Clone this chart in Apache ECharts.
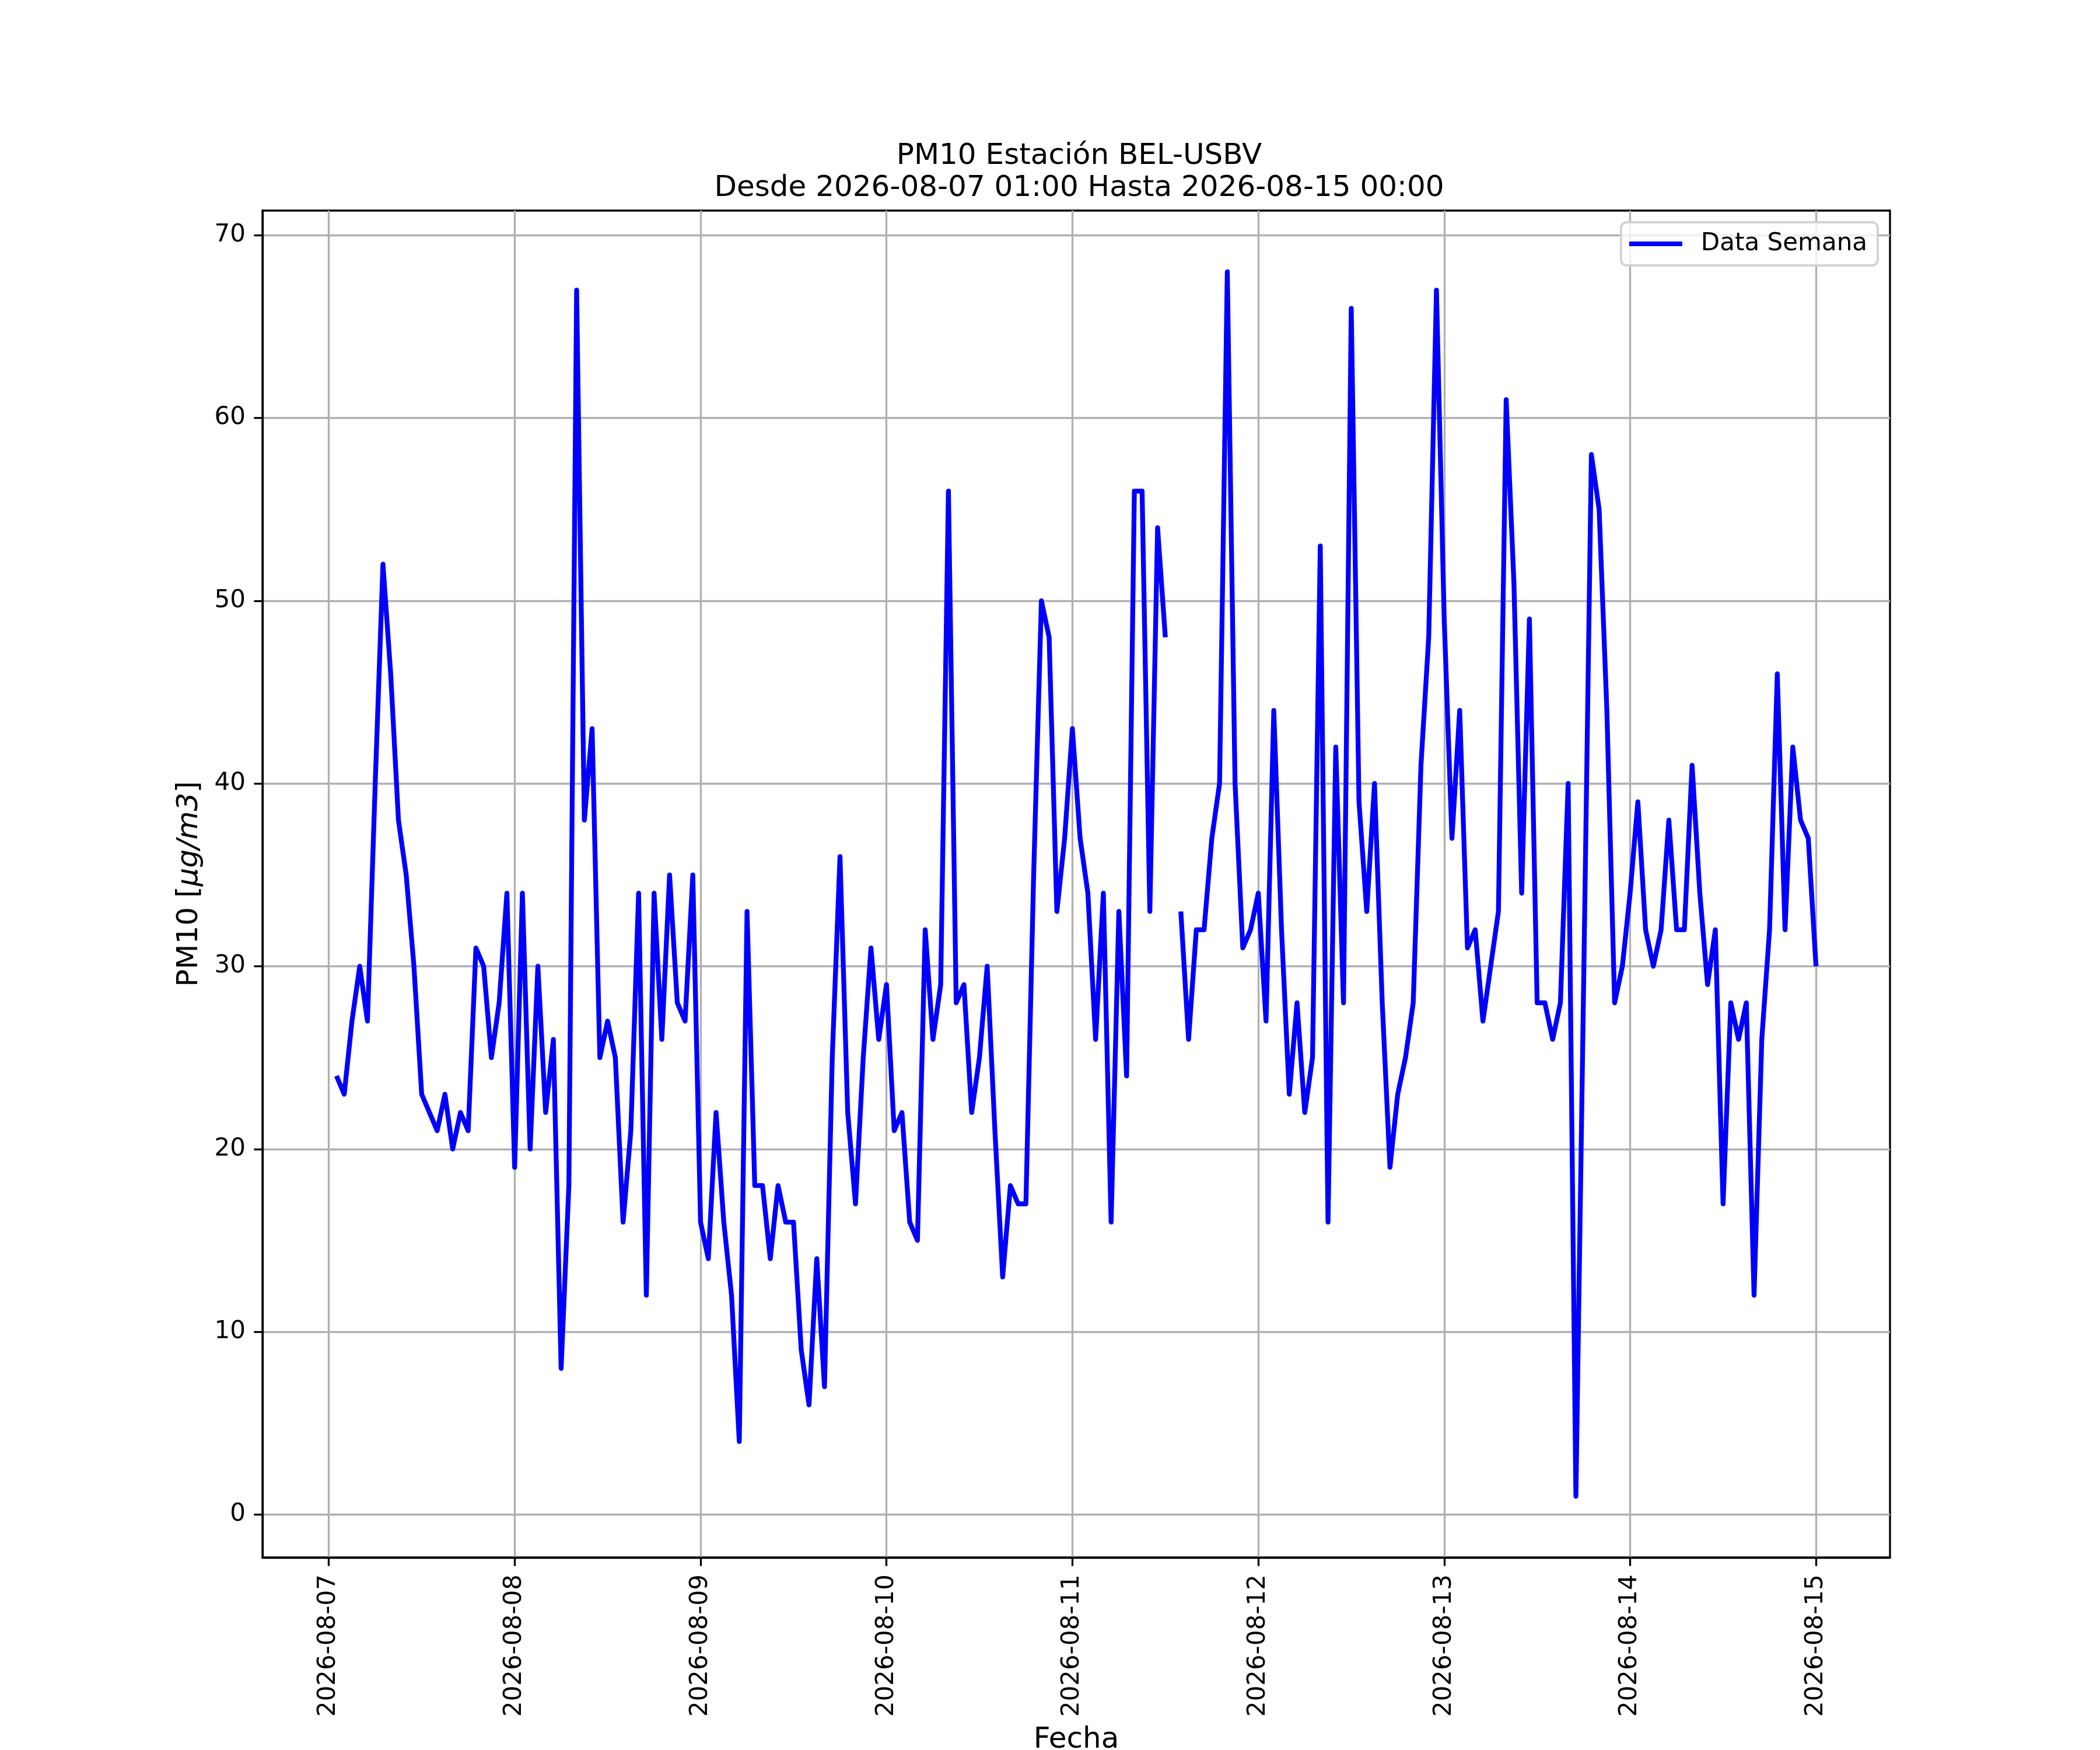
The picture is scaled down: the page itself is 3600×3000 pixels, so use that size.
<!DOCTYPE html>
<html>
<head>
<meta charset="utf-8">
<script src="https://cdn.jsdelivr.net/npm/echarts@6/dist/echarts.min.js"></script>
<style>
html, body { margin: 0; padding: 0; background: #ffffff; }
#chart { width: 3600px; height: 3000px; }
</style>
</head>
<body>
<div id="chart"></div>
<script>
// day labels on the x axis, one per midnight
var dayLabels = ['2026-08-07', '2026-08-08', '2026-08-09', '2026-08-10', '2026-08-11',
                 '2026-08-12', '2026-08-13', '2026-08-14', '2026-08-15'];
var xTicks = [0, 24, 48, 72, 96, 120, 144, 168, 192];   // hours since 2026-08-07 00:00
var yTicks = [0, 10, 20, 30, 40, 50, 60, 70];

// hourly PM10, 01:00 .. 24:00 of each day (24:00 = next day 00:00)
var pm07 = [24, 23, 27, 30, 27, 40, 52, 46, 38, 35, 30, 23, 22, 21, 23, 20, 22, 21, 31, 30, 25, 28, 34, 19];
var pm08 = [34, 20, 30, 22, 26, 8, 18, 67, 38, 43, 25, 27, 25, 16, 21, 34, 12, 34, 26, 35, 28, 27, 35, 16];
var pm09 = [14, 22, 16, 12, 4, 33, 18, 18, 14, 18, 16, 16, 9, 6, 14, 7, 25, 36, 22, 17, 25, 31, 26, 29];
var pm10 = [21, 22, 16, 15, 32, 26, 29, 56, 28, 29, 22, 25, 30, 21, 13, 18, 17, 17, 35, 50, 48, 33, 37, 43];
var pm11 = [37, 34, 26, 34, 16, 33, 24, 56, 56, 33, 54, 48, null, 33, 26, 32, 32, 37, 40, 68, 40, 31, 32, 34];
var pm12 = [27, 44, 32, 23, 28, 22, 25, 53, 16, 42, 28, 66, 39, 33, 40, 28, 19, 23, 25, 28, 41, 48, 67, 49];
var pm13 = [37, 44, 31, 32, 27, 30, 33, 61, 51, 34, 49, 28, 28, 26, 28, 40, 1, 29, 58, 55, 44, 28, 30, 34];
var pm14 = [39, 32, 30, 32, 38, 32, 32, 41, 34, 29, 32, 17, 28, 26, 28, 12, 26, 32, 46, 32, 42, 38, 37, 30];

var values = [].concat(pm07, pm08, pm09, pm10, pm11, pm12, pm13, pm14);
var seriesData = values.map(function (v, i) { return [i + 1, v]; });

// matplotlib style 5% margins
var xSpan = values.length - 1;
var xMin = 1 - xSpan * 0.05, xMax = values.length + xSpan * 0.05;
var yMin = -2.35, yMax = 71.35;

var font = 'DejaVu Sans';

var dom = document.getElementById('chart');
var myChart = echarts.init(dom);
var option = {
    animation: false,
    backgroundColor: '#ffffff',
    title: {
        text: 'PM10 Estación BEL-USBV\nDesde 2026-08-07 01:00 Hasta 2026-08-15 00:00',
        left: 1845,
        top: 236,
        textAlign: 'center',
        textStyle: {
            fontFamily: font,
            fontSize: 50,
            fontWeight: 'normal',
            color: '#000000',
            lineHeight: 55
        }
    },
    legend: {
        data: ['Data Semana'],
        icon: 'rect',
        right: 381,
        top: 381,
        padding: [16, 18, 16, 14],
        itemWidth: 91,
        itemHeight: 8,
        backgroundColor: 'rgba(255,255,255,0.8)',
        borderColor: '#d3d3d3',
        borderWidth: 4,
        borderRadius: 10,
        textStyle: {
            fontFamily: font,
            fontSize: 42,
            color: '#000000',
            padding: [0, 0, 0, 27]
        }
    },
    grid: {
        left: 450,
        right: 360,
        top: 361,
        bottom: 330,
        outerBoundsMode: 'none',
        show: true,
        borderColor: '#000000',
        borderWidth: 3.3
    },
    xAxis: {
        type: 'value',
        min: xMin,
        max: xMax,
        name: 'Fecha',
        nameLocation: 'middle',
        nameGap: 288,
        nameTextStyle: { fontFamily: font, fontSize: 50, color: '#000000' },
        axisLine: { show: true, onZero: false, lineStyle: { color: '#000000', width: 3.3 } },
        axisTick: { show: true, length: 14.6, lineStyle: { color: '#000000', width: 3.3 }, customValues: xTicks },
        axisLabel: {
            customValues: xTicks,
            rotate: 90,
            margin: 29,
            fontFamily: font,
            fontSize: 42,
            color: '#000000',
            formatter: function (v) { return dayLabels[xTicks.indexOf(v)]; }
        },
        splitLine: { show: true, lineStyle: { color: '#b0b0b0', width: 3.3 } }
    },
    yAxis: {
        type: 'value',
        min: yMin,
        max: yMax,
        name: 'PM10 [{i|μg/m3}]',
        nameLocation: 'middle',
        nameGap: 100,
        nameTextStyle: {
            fontFamily: font, fontSize: 50, color: '#000000',
            rich: { i: { fontFamily: font, fontSize: 50, fontStyle: 'italic', color: '#000000' } }
        },
        axisLine: { show: true, onZero: false, lineStyle: { color: '#000000', width: 3.3 } },
        axisTick: { show: true, length: 14.6, lineStyle: { color: '#000000', width: 3.3 }, customValues: yTicks },
        axisLabel: {
            customValues: yTicks,
            margin: 29,
            fontFamily: font,
            fontSize: 42,
            color: '#000000'
        },
        splitLine: { show: true, lineStyle: { color: '#b0b0b0', width: 3.3 } }
    },
    series: [{
        name: 'Data Semana',
        type: 'line',
        data: seriesData,
        symbol: 'none',
        connectNulls: false,
        lineStyle: { color: '#0000ff', width: 8.3, join: 'round' },
        itemStyle: { color: '#0000ff' }
    }]
};
myChart.setOption(option);
</script>
</body>
</html>
